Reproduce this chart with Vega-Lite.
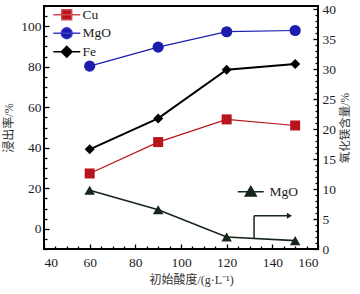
{
  "$schema": "https://vega.github.io/schema/vega-lite/v6.json",
  "width": 274,
  "height": 243,
  "autosize": {"type": "none"},
  "padding": {"left": 44, "top": 6, "right": 42, "bottom": 45},
  "background": "white",
  "config": {
    "view": {"stroke": "black", "strokeWidth": 2},
    "font": "Liberation Serif",
    "axis": {"grid": false, "domain": false, "tickColor": "black", "tickWidth": 1.3, "labelFont": "Liberation Serif", "labelFontSize": 13.5, "labelColor": "#1c1c2c", "titleFont": "Liberation Serif, Noto Sans CJK SC", "titleFontWeight": "normal", "titleColor": "#333333"}
  },
  "datasets": {
    "left": [
      {"x": 60, "series": "Cu", "v": 27.3},
      {"x": 90, "series": "Cu", "v": 42.8},
      {"x": 120, "series": "Cu", "v": 54.0},
      {"x": 150, "series": "Cu", "v": 51.0},
      {"x": 60, "series": "MgO", "v": 80.3},
      {"x": 90, "series": "MgO", "v": 89.7},
      {"x": 120, "series": "MgO", "v": 97.3},
      {"x": 150, "series": "MgO", "v": 97.9},
      {"x": 60, "series": "Fe", "v": 39.2},
      {"x": 90, "series": "Fe", "v": 54.5},
      {"x": 120, "series": "Fe", "v": 78.5},
      {"x": 150, "series": "Fe", "v": 81.3}
    ],
    "right": [
      {"x": 60, "series": "MgO", "v": 9.8},
      {"x": 90, "series": "MgO", "v": 6.55},
      {"x": 120, "series": "MgO", "v": 2.0},
      {"x": 150, "series": "MgO", "v": 1.4}
    ],
    "arrow": [
      {"x": 132, "y": 1.76, "x2": 132, "y2": 5.55},
      {"x": 132, "y": 5.55, "x2": 147.5, "y2": 5.55}
    ]
  },
  "layer": [
    {
      "data": {"name": "left"},
      "mark": {"type": "line"},
      "encoding": {
        "x": {"field": "x", "type": "quantitative", "scale": {"domain": [40, 160], "nice": false, "zero": false},
          "axis": {"orient": "bottom", "values": [40, 60, 80, 100, 120, 140, 160], "tickSize": -5, "labelPadding": 11, "title": "初始酸度/(g·L⁻¹)", "titleFontSize": 12, "titlePadding": 6, "titleX": 147}},
        "y": {"field": "v", "type": "quantitative", "scale": {"domain": [-10, 110], "nice": false, "zero": false},
          "axis": {"orient": "left", "values": [0, 20, 40, 60, 80, 100], "tickSize": -5, "labelPadding": 8, "title": "浸出率/%", "titleFontSize": 12, "titlePadding": 5}},
        "color": {"field": "series", "type": "nominal", "scale": {"domain": ["Cu", "MgO", "Fe"], "range": ["#b8141c", "#1c1cae", "#000000"]}, "legend": null},
        "strokeWidth": {"condition": {"test": "datum.series === 'Fe'", "value": 2}, "value": 1.2}
      }
    },
    {
      "data": {"name": "left"},
      "mark": {"type": "point", "filled": true, "opacity": 1},
      "encoding": {
        "x": {"field": "x", "type": "quantitative", "scale": {"domain": [40, 160], "nice": false, "zero": false},
          "axis": {"orient": "bottom", "values": [45, 50, 55, 65, 70, 75, 85, 90, 95, 105, 110, 115, 125, 130, 135, 145, 150, 155], "tickSize": -3, "labels": false, "title": null}},
        "y": {"field": "v", "type": "quantitative", "scale": {"domain": [-10, 110], "nice": false, "zero": false},
          "axis": {"orient": "left", "values": [-10, -5, 5, 10, 15, 25, 30, 35, 45, 50, 55, 65, 70, 75, 85, 90, 95, 105, 110], "tickSize": -3, "labels": false, "title": null}},
        "color": {"field": "series", "type": "nominal", "scale": {"domain": ["Cu", "MgO", "Fe"], "range": ["#b8141c", "#1c1cae", "#000000"]}, "legend": null},
        "shape": {"field": "series", "type": "nominal", "scale": {"domain": ["Cu", "MgO", "Fe"], "range": ["square", "circle", "diamond"]}, "legend": null},
        "size": {"condition": {"test": "datum.series === 'MgO'", "value": 125}, "value": 100}
      }
    },
    {
      "data": {"name": "left"},
      "transform": [{"filter": "false"}],
      "mark": {"type": "point", "filled": true, "opacity": 1},
      "encoding": {
        "shape": {"field": "series", "type": "nominal",
          "scale": {"domain": ["Cu", "MgO", "Fe"], "range": ["M-2.7,0H2.7M-1,-1H1V1H-1Z", "M-2.7,0H2.7M1.1,0A1.1,1.1,0,1,1,-1.1,0A1.1,1.1,0,1,1,1.1,0Z", "M-2.7,0H2.7M0,-1.1L1.1,0L0,1.1L-1.1,0Z"]},
          "legend": {"title": null, "orient": "none", "legendX": 16, "legendY": 2, "symbolSize": 100, "symbolStrokeWidth": 1.3, "labelFont": "Liberation Serif", "labelFontSize": 13.5, "labelColor": "#222222", "labelOffset": 9, "rowPadding": 1.5, "padding": 0}},
        "fill": {"field": "series", "type": "nominal", "scale": {"domain": ["Cu", "MgO", "Fe"], "range": ["#b8141c", "#1c1cae", "#000000"]},
          "legend": {"title": null, "orient": "none", "legendX": 16, "legendY": 2, "symbolSize": 100, "symbolStrokeWidth": 1.3, "labelFont": "Liberation Serif", "labelFontSize": 13.5, "labelColor": "#222222", "labelOffset": 9, "rowPadding": 1.5, "padding": 0}},
        "stroke": {"field": "series", "type": "nominal", "scale": {"domain": ["Cu", "MgO", "Fe"], "range": ["#d04a50", "#3c3cc8", "#000000"]},
          "legend": {"title": null, "orient": "none", "legendX": 16, "legendY": 2, "symbolSize": 100, "symbolStrokeWidth": 1.3, "labelFont": "Liberation Serif", "labelFontSize": 13.5, "labelColor": "#222222", "labelOffset": 9, "rowPadding": 1.5, "padding": 0}}
      }
    },
    {
      "data": {"name": "right"},
      "transform": [{"filter": "false"}],
      "mark": {"type": "point", "filled": true, "opacity": 1},
      "encoding": {
        "shape": {"field": "series", "type": "nominal",
          "scale": {"domain": ["MgO"], "range": ["M-2.6,0H2.6M0,-1.05L1.1,0.85L-1.1,0.85Z"]},
          "legend": {"title": null, "orient": "none", "legendX": 200, "legendY": 179, "symbolSize": 100, "symbolStrokeWidth": 1.5, "labelFont": "Liberation Serif", "labelFontSize": 13.5, "labelColor": "#222222", "labelOffset": 12, "padding": 0}},
        "fill": {"field": "series", "type": "nominal", "scale": {"domain": ["MgO"], "range": ["#16261a"]},
          "legend": {"title": null, "orient": "none", "legendX": 200, "legendY": 179, "symbolSize": 100, "symbolStrokeWidth": 1.5, "labelFont": "Liberation Serif", "labelFontSize": 13.5, "labelColor": "#222222", "labelOffset": 12, "padding": 0}},
        "stroke": {"field": "series", "type": "nominal", "scale": {"domain": ["MgO"], "range": ["#16261a"]},
          "legend": {"title": null, "orient": "none", "legendX": 200, "legendY": 179, "symbolSize": 100, "symbolStrokeWidth": 1.5, "labelFont": "Liberation Serif", "labelFontSize": 13.5, "labelColor": "#222222", "labelOffset": 12, "padding": 0}}
      }
    },
    {
      "data": {"name": "right"},
      "mark": {"type": "line", "color": "#16261a", "strokeWidth": 1.6},
      "encoding": {
        "x": {"field": "x", "type": "quantitative", "scale": {"domain": [40, 160], "nice": false, "zero": false}, "axis": null},
        "y": {"field": "v", "type": "quantitative", "scale": {"domain": [0, 40.5], "nice": false, "zero": false},
          "axis": {"orient": "right", "values": [0, 5, 10, 15, 20, 25, 30, 35, 40], "tickSize": -5, "labelPadding": 9, "title": "氧化镁含量/%", "titleFontSize": 11.5, "titleAngle": 270, "titleBaseline": "top", "titlePadding": 4}}
      }
    },
    {
      "data": {"name": "right"},
      "mark": {"type": "point", "shape": "triangle-up", "filled": true, "opacity": 1, "size": 110, "color": "#16261a"},
      "encoding": {
        "x": {"field": "x", "type": "quantitative", "scale": {"domain": [40, 160], "nice": false, "zero": false}, "axis": null},
        "y": {"field": "v", "type": "quantitative", "scale": {"domain": [0, 40.5], "nice": false, "zero": false},
          "axis": {"orient": "right", "values": [1, 2, 3, 4, 6, 7, 8, 9, 11, 12, 13, 14, 16, 17, 18, 19, 21, 22, 23, 24, 26, 27, 28, 29, 31, 32, 33, 34, 36, 37, 38, 39], "tickSize": -3, "labels": false, "title": null}}
      }
    },
    {
      "data": {"name": "arrow"},
      "mark": {"type": "rule", "color": "#16261a", "strokeWidth": 1.5},
      "encoding": {
        "x": {"field": "x", "type": "quantitative", "scale": {"domain": [40, 160], "nice": false, "zero": false}, "axis": null},
        "x2": {"field": "x2"},
        "y": {"field": "y", "type": "quantitative", "scale": {"domain": [0, 40.5], "nice": false, "zero": false}, "axis": null},
        "y2": {"field": "y2"}
      }
    },
    {
      "data": {"name": "arrow"},
      "transform": [{"filter": "datum.y === datum.y2"}],
      "mark": {"type": "point", "shape": "triangle-right", "filled": true, "opacity": 1, "size": 35, "color": "#16261a"},
      "encoding": {
        "x": {"field": "x2", "type": "quantitative", "scale": {"domain": [40, 160], "nice": false, "zero": false}, "axis": null},
        "y": {"field": "y2", "type": "quantitative", "scale": {"domain": [0, 40.5], "nice": false, "zero": false}, "axis": null}
      }
    }
  ],
  "resolve": {"scale": {"x": "independent", "y": "independent", "shape": "independent", "fill": "independent", "stroke": "independent"}}
}
